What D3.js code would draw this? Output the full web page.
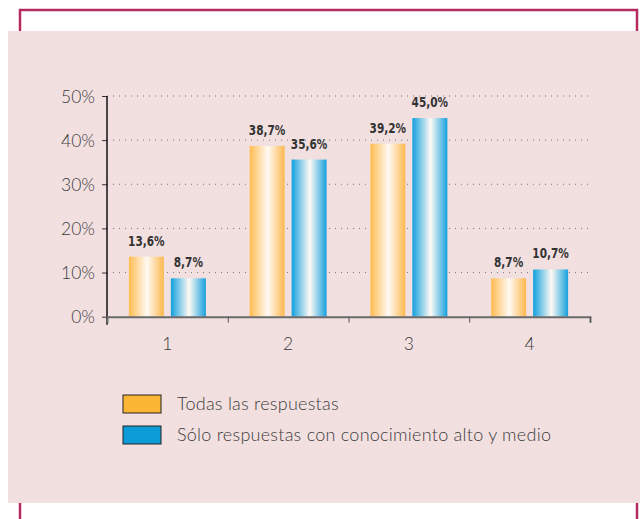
<!DOCTYPE html>
<html>
<head>
<meta charset="utf-8">
<script src="https://cdn.jsdelivr.net/npm/d3@7"></script>
<style>
  body { margin: 0; background: #ffffff; }
  svg { display: block; }
  .tickLabel { font-family: Lato, "Open Sans", sans-serif; font-weight: 300; fill: #3c3c3c; }
  .valueLabel { font-family: "DejaVu Sans", sans-serif; font-weight: bold; font-size: 13.5px; fill: #333; }
  .legendText { font-family: Lato, "Open Sans", sans-serif; font-weight: 300; font-size: 18px; letter-spacing: 0.25px; fill: #3c3c3c; }
</style>
</head>
<body>
<svg id="chart" width="640" height="519"></svg>
<script>
var categories = ["1", "2", "3", "4"]
var seriesNames = ["Todas las respuestas", "Sólo respuestas con conocimiento alto y medio"]
var todas = [13.6, 38.7, 39.2, 8.7]
var soloAltoMedio = [8.7, 35.6, 45.0, 10.7]
var yTicks = [0, 10, 20, 30, 40, 50]

var colors = ["#fbb535", "#0e9cd9"]
var edgeColors = [["#ffbb50", "#fdb84e"], ["#12a0de", "#16a0dd"]]

var svg = d3.select("#chart")

// frame and panel
svg.append("rect").attr("x", 20).attr("y", 10).attr("width", 617).attr("height", 530)
  .attr("fill", "none").attr("stroke", "#b52a5d").attr("stroke-width", 2.5)
svg.append("rect").attr("x", 8).attr("y", 31).attr("width", 632).attr("height", 472)
  .attr("fill", "#f2e0e1")

// gradients for the bars
var defs = svg.append("defs")
edgeColors.forEach(function (c, i) {
  var grad = defs.append("linearGradient").attr("id", "grad" + i)
    .attr("x1", "0%").attr("x2", "100%").attr("y1", "0%").attr("y2", "0%")
  grad.append("stop").attr("offset", "0%").attr("stop-color", c[0])
  grad.append("stop").attr("offset", "52%").attr("stop-color", "#fffaf4")
  grad.append("stop").attr("offset", "100%").attr("stop-color", c[1])
})

var margin = { left: 107, top: 96, right: 50, bottom: 202 }
var width = 590 - margin.left
var height = 316.7 - margin.top

var g = svg.append("g").attr("transform", "translate(" + margin.left + "," + margin.top + ")")

var x = d3.scaleBand().domain(categories).range([0, width])
var y = d3.scaleLinear().domain([0, 50]).range([height, 0])
var barW = 35, gap = 7

// dotted gridlines
g.selectAll(".grid").data(yTicks.filter(function (d) { return d > 0 })).enter()
  .append("line").attr("class", "grid")
  .attr("x1", 0).attr("x2", width)
  .attr("y1", function (d) { return y(d) }).attr("y2", function (d) { return y(d) })
  .attr("stroke", "#777").attr("stroke-width", 1).attr("stroke-dasharray", "1,5")

// y axis
var yAxis = g.append("g").call(d3.axisLeft(y).tickValues(yTicks).tickSize(5).tickFormat(function (d) { return d + "%" }))
yAxis.select(".domain").remove()
yAxis.selectAll(".tick line").attr("stroke", "#333")
yAxis.selectAll(".tick text").attr("class", "tickLabel").attr("font-size", 17.5).attr("x", -12).attr("dy", "0.35em")
g.append("line").attr("x1", 0).attr("x2", 0).attr("y1", 0).attr("y2", height + 8)
  .attr("stroke", "#111").attr("stroke-width", 1.5)

// bars
var series = [todas, soloAltoMedio]
series.forEach(function (vals, s) {
  var offset = s === 0 ? -gap / 2 - barW : gap / 2
  g.selectAll(".bar" + s).data(vals).enter().append("rect")
    .attr("class", "bar" + s)
    .attr("x", function (d, i) { return x(categories[i]) + x.bandwidth() / 2 + offset })
    .attr("y", function (d) { return y(d) })
    .attr("width", barW)
    .attr("height", function (d) { return height - y(d) })
    .attr("fill", "url(#grad" + s + ")")
  // condensed look: squeeze the label horizontally
  g.selectAll(".val" + s).data(vals).enter().append("text")
    .attr("class", "valueLabel")
    .attr("text-anchor", "middle")
    .attr("transform", function (d, i) {
      var cx = x(categories[i]) + x.bandwidth() / 2 + offset + barW / 2
      return "translate(" + cx + "," + (y(d) - 11) + ") scale(0.78,1)"
    })
    .text(function (d) { return d.toFixed(1).replace(".", ",") + "%" })
})

// x axis
var xb = d3.scaleLinear().domain([0, categories.length]).range([0, width])
var xAxis = g.append("g").attr("transform", "translate(0," + height + ")")
  .call(d3.axisBottom(xb).ticks(4).tickSize(6).tickFormat(""))
xAxis.select(".domain").attr("stroke", "#6a6a6a").attr("stroke-width", 2)
xAxis.selectAll(".tick line").attr("stroke", "#555")
xAxis.selectAll(".tick").filter(function (d) { return d === 0 }).remove()
g.selectAll(".xlabel").data(categories).enter().append("text")
  .attr("class", "tickLabel").attr("font-size", 17.5).attr("text-anchor", "middle")
  .attr("x", function (d) { return x(d) + x.bandwidth() / 2 })
  .attr("y", height + 33)
  .text(function (d) { return d })

// legend
var legend = svg.append("g").attr("transform", "translate(123,395)")
seriesNames.forEach(function (name, i) {
  var row = legend.append("g").attr("transform", "translate(0," + (i * 31) + ")")
  row.append("rect").attr("width", 38).attr("height", 18)
    .attr("fill", colors[i]).attr("stroke", "#222").attr("stroke-width", 1)
  row.append("text").attr("class", "legendText").attr("x", 54).attr("y", 15).text(name)
})
</script>
</body>
</html>
